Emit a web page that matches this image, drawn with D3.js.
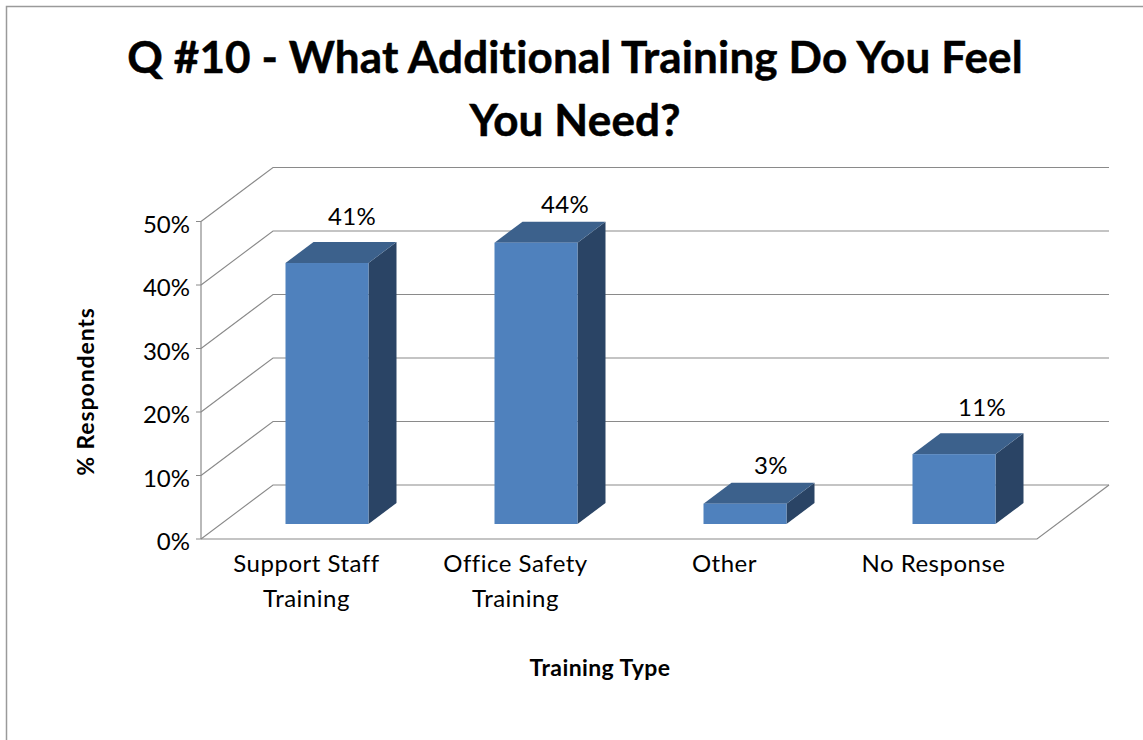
<!DOCTYPE html>
<html><head><meta charset="utf-8">
<script src="https://cdn.jsdelivr.net/npm/d3@7/dist/d3.min.js"></script>
<style>html,body{margin:0;padding:0;background:#fff}svg{display:block}text{font-family:Lato,"Open Sans",sans-serif;fill:#000;font-variant-ligatures:none}</style>
</head><body><script>
const categories=[["Support Staff","Training"],["Office Safety","Training"],["Other"],["No Response"]];
const values=[41.1,44.3,3.2,11];
const yTicks=[0,10,20,30,40,50];
const titleLines=["Q #10 - What Additional Training Do You Feel","You Need?"];
const yTitle="% Respondents";
const xTitle="Training Type";

const W=1143,H=740;
const left=201,right=1037,base=539,top50=221.5;
const backDx=72,backDy=-54;
const barShiftX=21.5,barShiftY=-15,depthX=28,depthY=-21;
const y=d3.scaleLinear().domain([0,50]).range([base,top50]);
const x=d3.scaleBand().domain(d3.range(categories.length)).range([left,right]);
const barW=83;
const grid="#8a8a8a";
const labelNudge=[[0,0],[4,8],[1,8],[3,0]];

const svg=d3.select("body").append("svg").attr("width",W).attr("height",H);
svg.append("path").attr("d",`M6.5,${H}V6.5H${W}`).attr("fill","none").attr("stroke","#9a9a9a").attr("stroke-width",1.5);

const g=svg.append("g");
g.selectAll("path.grid").data(yTicks).join("path").attr("class","grid")
 .attr("fill","none").attr("stroke",grid).attr("stroke-width",1.1)
 .attr("d",d=>`M${left},${y(d)}L${left+backDx},${y(d)+backDy}H${right+backDx}`);
g.append("path").attr("fill","none").attr("stroke",grid).attr("stroke-width",1.2)
 .attr("d",`M${left},${base}H${right}L${right+backDx},${base+backDy}`);
g.append("line").attr("x1",left).attr("x2",left).attr("y1",y(50)).attr("y2",base).attr("stroke",grid).attr("stroke-width",1.2);
g.selectAll("line.tick").data(yTicks).join("line").attr("class","tick")
 .attr("x1",left-5).attr("x2",left).attr("y1",d=>y(d)).attr("y2",d=>y(d)).attr("stroke",grid);
g.selectAll("text.ylab").data(yTicks).join("text").attr("class","ylab")
 .attr("x",left-11).attr("y",d=>y(d)+11).attr("text-anchor","end").attr("font-size",24)
 .text(d=>d+"%");

const bars=g.selectAll("g.bar").data(values).join("g").attr("class","bar");
const bx=(d,i)=>x(i)+x.bandwidth()/2-barW/2+barShiftX;
const by=d=>y(d)+barShiftY;
const by0=y(0)+barShiftY;
bars.append("path").attr("fill","#2a4465")
 .attr("d",(d,i)=>{const X=bx(d,i)+barW;return `M${X},${by(d)}l${depthX},${depthY}V${by0+depthY}L${X},${by0}Z`;});
bars.append("path").attr("fill","#3c618c")
 .attr("d",(d,i)=>{const X=bx(d,i);return `M${X},${by(d)}l${depthX},${depthY}h${barW}l${-depthX},${-depthY}Z`;});
bars.append("rect").attr("fill","#4f81bd")
 .attr("x",(d,i)=>bx(d,i)).attr("y",d=>by(d)).attr("width",barW).attr("height",d=>by0-by(d));
bars.append("text").attr("text-anchor","middle").attr("font-size",24).attr("letter-spacing",0.3)
 .attr("x",(d,i)=>bx(d,i)+barW/2+25+labelNudge[i][0]).attr("y",(d,i)=>by(d)-38+labelNudge[i][1])
 .text(d=>Math.round(d)+"%");

const catG=g.selectAll("text.cat").data(categories).join("text").attr("class","cat")
 .attr("text-anchor","middle").attr("font-size",24).attr("letter-spacing",0.5);
catG.selectAll("tspan").data((d,i)=>d.map(t=>({t,i}))).join("tspan")
 .attr("x",d=>x(d.i)+x.bandwidth()/2+1).attr("y",(d,j)=>572+j*35).text(d=>d.t);

svg.selectAll("text.title").data(titleLines).join("text").attr("class","title")
 .attr("x",575).attr("y",(d,i)=>73+i*63).attr("text-anchor","middle")
 .attr("font-size",44).attr("font-weight",700).attr("letter-spacing",0.15).attr("stroke","#000").attr("stroke-width",0.5).text(d=>d);
svg.append("text").attr("transform","translate(94,391.5) rotate(-90)").attr("text-anchor","middle")
 .attr("font-size",23).attr("font-weight",700).attr("letter-spacing",0.9).text(yTitle);
svg.append("text").attr("x",600).attr("y",676).attr("text-anchor","middle")
 .attr("font-size",23).attr("font-weight",700).attr("letter-spacing",0.4).text(xTitle);
</script></body></html>
